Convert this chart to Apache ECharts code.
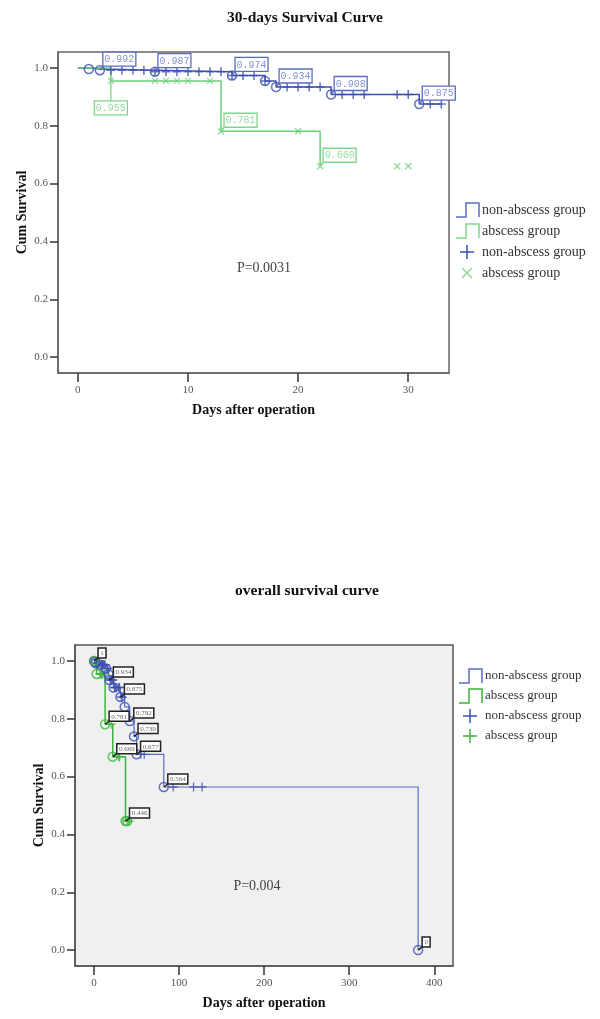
<!DOCTYPE html>
<html><head><meta charset="utf-8">
<script src="https://cdn.jsdelivr.net/npm/echarts@6/dist/echarts.min.js"></script>
<style>html,body{margin:0;padding:0;background:#fff}#c{width:600px;height:1019px}</style>
</head><body><div id="c"></div>
<script>
// ---------------- 30-days survival (top chart) ----------------
const top_xTicks = [0, 10, 20, 30];
const top_yTicks = [0, 0.2, 0.4, 0.6, 0.8, 1.0];
// Kaplan-Meier steps [day, cumulative survival]
const top_nonAbscessSteps = [[0,1],[1,0.996],[2,0.992],[7,0.987],[14,0.974],[17,0.955],[18,0.934],[23,0.908],[31,0.875],[33,0.875]];
const top_abscessSteps = [[0,1],[3,0.955],[13,0.781],[22,0.660]];
// censored days
const top_nonAbscessCensor = [3,4,5,6,7,8,9,10,11,12,13,14,15,16,17,19,20,21,22,24,25,26,29,30,32,33];
const top_abscessCensor = [3,7,8,9,10,12,13,20,22,29,30];
// event days drawn with circles
const top_nonAbscessCircles = [1,2,7,14,17,18,23,31];
// labelled points [day, value]
const top_nonAbscessLabels = [[2,0.992],[7,0.987],[14,0.974],[18,0.934],[23,0.908],[31,0.875]];
const top_abscessLabels = [[3,0.955],[13,0.781],[22,0.660]];
const top_abscessLabelPlacement = ['below','right','right'];
const top_pText = 'P=0.0031';

// ---------------- overall survival (bottom chart) ----------------
const all_xTicks = [0, 100, 200, 300, 400];
const all_yTicks = [0, 0.2, 0.4, 0.6, 0.8, 1.0];
const all_nonAbscessSteps = [[0,1],[1,0.996],[2,0.992],[7,0.987],[14,0.974],[17,0.955],[18,0.934],[23,0.908],[31,0.875],[36,0.841],[42,0.792],[47,0.739],[50,0.677],[82,0.564],[381,0]];
const all_abscessSteps = [[0,1],[3,0.955],[13,0.781],[22,0.669],[37,0.446],[41,0.446]];
const all_nonAbscessCensor = [3,4,5,6,8,9,10,11,12,13,15,16,19,20,21,22,24,25,26,29,30,32,33,55,59,93,117,127];
const all_abscessCensor = [7,8,9,10,12,20,29,30,39,41];
const all_nonAbscessCircles = [0,1,2,7,14,17,18,23,31,36,42,47,50,82,381];
const all_abscessCircles = [0,3,13,22,37,39];
const all_nonAbscessLabels = [[0,1],[18,0.934],[31,0.875],[42,0.792],[47,0.739],[50,0.677],[82,0.564],[381,0]];
const all_abscessLabels = [[13,0.781],[22,0.669],[37,0.446]];
const all_pText = 'P=0.004';

const legendNames = ['non-abscess group', 'abscess group', 'non-abscess group', 'abscess group'];

// ---------------- helpers ----------------
const SERIF = "'Liberation Serif', 'DejaVu Serif', serif";
function S(steps, t) { let v = steps[0][1]; for (const [d, s] of steps) { if (d <= t) v = s; else break; } return v; }
function onCurve(steps, days) { return days.map(d => [d, S(steps, d)]); }
function fmt(v) { return v === 1 ? '1' : v === 0 ? '0' : v.toFixed(3); }
const mctx = document.createElement('canvas').getContext('2d');
function textW(t, font) { mctx.font = font; return mctx.measureText(t).width; }

const PLUS = 'path://M0,5L10,5M5,0L5,10';
const CROSS = 'path://M0,0L10,10M10,0L0,10';

function stepSeries(idx, steps, color, width) {
  return { type: 'line', xAxisIndex: idx, yAxisIndex: idx, step: 'end', data: steps, showSymbol: false, symbol: 'none',
    lineStyle: { color: color, width: width }, z: 2, silent: true };
}
function markSeries(idx, pts, symbol, size, color, lw) {
  return { type: 'scatter', xAxisIndex: idx, yAxisIndex: idx, data: pts, symbol: symbol, symbolSize: size,
    itemStyle: { color: 'rgba(0,0,0,0)', borderColor: color, borderWidth: lw }, z: 4, silent: true };
}
function labelSeries(idx, labels, placement, st) {
  return {
    type: 'custom', xAxisIndex: idx, yAxisIndex: idx, clip: false, z: 6, silent: true,
    data: labels.map(l => [l[0], l[1]]),
    renderItem: function (params, api) {
      const i = params.dataIndex;
      const p = api.coord([api.value(0), api.value(1)]);
      const txt = fmt(labels[i][1]);
      const font = st.fontSize + 'px ' + st.fontFamily;
      const w = Math.round(textW(txt, font) + st.padX * 2);
      const h = st.boxH;
      let bx, by, lx, ly;
      if (placement && placement[i] === 'below') { bx = p[0] - w / 2; by = p[1] + st.belowGap; lx = p[0]; ly = by; }
      else { bx = p[0] + st.dx; by = p[1] - st.dy - h; lx = bx; ly = by + h; }
      return { type: 'group', children: [
        { type: 'line', shape: { x1: p[0], y1: p[1], x2: lx, y2: ly }, style: { stroke: st.border, lineWidth: st.lw } },
        { type: 'rect', shape: { x: bx, y: by, width: w, height: h }, style: { fill: '#fff', stroke: st.border, lineWidth: st.lw } },
        { type: 'text', style: { x: bx + w / 2, y: by + h / 2 + 0.5, text: txt, align: 'center', verticalAlign: 'middle', font: font, fill: st.textColor } }
      ] };
    }
  };
}
function axisPair(idx, xmin, xmax, xTicks, ymin, ymax, yTicks, frameColor) {
  const lab = { fontFamily: SERIF, fontSize: 11, color: '#555' };
  const nameStyle = { fontFamily: SERIF, fontSize: 14, fontWeight: 'bold', color: '#111' };
  return {
    x: { type: 'value', gridIndex: idx, min: xmin, max: xmax, splitLine: { show: false },
      axisLine: { show: true, onZero: false, lineStyle: { color: frameColor, width: 1.5 } },
      axisTick: { show: true, customValues: xTicks, length: 9, lineStyle: { color: '#333', width: 1.5 } },
      axisLabel: { customValues: xTicks, margin: 12, ...lab },
      name: 'Days after operation', nameLocation: 'middle', nameGap: 30, nameMoveOverlap: false, nameTextStyle: nameStyle },
    y: { type: 'value', gridIndex: idx, min: ymin, max: ymax, splitLine: { show: false },
      axisLine: { show: true, onZero: false, lineStyle: { color: frameColor, width: 1.5 } },
      axisTick: { show: true, customValues: yTicks, length: 8, lineStyle: { color: '#333', width: 1.5 } },
      axisLabel: { customValues: yTicks, margin: 10, formatter: v => v.toFixed(1), ...lab },
      name: 'Cum Survival', nameLocation: 'middle', nameGap: 29, nameMoveOverlap: false, nameTextStyle: nameStyle }
  };
}
function legendGraphic(x0, y0, gap, fontSize, items) {
  const els = [];
  items.forEach((it, i) => {
    const cy = y0 + i * gap;
    if (it.kind === 'step') {
      els.push({ type: 'polyline', shape: { points: [[x0, cy + 7], [x0 + 10, cy + 7], [x0 + 10, cy - 7], [x0 + 23, cy - 7], [x0 + 23, cy + 7]] },
        style: { stroke: it.color, lineWidth: 1.5, fill: 'none' } });
    } else if (it.kind === 'plus') {
      const cx = x0 + 11;
      els.push({ type: 'line', shape: { x1: cx - 7, y1: cy, x2: cx + 7, y2: cy }, style: { stroke: it.color, lineWidth: 1.5 } });
      els.push({ type: 'line', shape: { x1: cx, y1: cy - 7, x2: cx, y2: cy + 7 }, style: { stroke: it.color, lineWidth: 1.5 } });
    } else {
      const cx = x0 + 11;
      els.push({ type: 'line', shape: { x1: cx - 5, y1: cy - 5, x2: cx + 5, y2: cy + 5 }, style: { stroke: it.color, lineWidth: 1.2 } });
      els.push({ type: 'line', shape: { x1: cx + 5, y1: cy - 5, x2: cx - 5, y2: cy + 5 }, style: { stroke: it.color, lineWidth: 1.2 } });
    }
    els.push({ type: 'text', x: x0 + 26, y: cy, style: { text: it.name, font: fontSize + 'px ' + SERIF, fill: '#333', verticalAlign: 'middle', align: 'left' } });
  });
  return els;
}

// ---------------- colours ----------------
const C = {
  tBlue: '#3b4fae', tBlueLbl: '#5a6cc0', tBlueTxt: '#8494d4',
  tGreen: '#6ccf7a', tGreenLbl: '#7fd58b', tGreenTxt: '#95dca0',
  bBlueLine: '#5a6ec2', bBlue: '#3d50b2', bGreen: '#3db53d'
};

const a0 = axisPair(0, -1.8, 33.7, top_xTicks, -0.055, 1.055, top_yTicks, '#666');
const a1 = axisPair(1, -22.4, 422, all_xTicks, -0.055, 1.055, all_yTicks, '#555');

const topLblBlue = { fontSize: 10, fontFamily: "'Liberation Mono', 'DejaVu Sans Mono', monospace", padX: 1.5, boxH: 14, dx: 3, dy: 4, belowGap: 20, border: C.tBlueLbl, textColor: C.tBlueTxt, lw: 1.3 };
const topLblGreen = Object.assign({}, topLblBlue, { border: C.tGreenLbl, textColor: C.tGreenTxt });
const botLbl = { fontSize: 7, fontFamily: SERIF, padX: 2, boxH: 10, dx: 4, dy: 3, belowGap: 15, border: '#222', textColor: '#666', lw: 1.5 };

const option = {
  animation: false,
  backgroundColor: '#fff',
  grid: [
    { left: 58, top: 52, width: 391, height: 321, show: true, borderColor: '#666', borderWidth: 1.5, backgroundColor: '#fff' },
    { left: 75, top: 645, width: 378, height: 321, show: true, borderColor: '#555', borderWidth: 1.5, backgroundColor: '#f0f0f0' }
  ],
  xAxis: [a0.x, a1.x],
  yAxis: [a0.y, a1.y],
  series: [
    stepSeries(0, top_nonAbscessSteps, C.tBlue, 1.5),
    stepSeries(0, top_abscessSteps, C.tGreen, 1.5),
    markSeries(0, onCurve(top_nonAbscessSteps, top_nonAbscessCensor), PLUS, 9, C.tBlue, 1.5),
    markSeries(0, onCurve(top_abscessSteps, top_abscessCensor), CROSS, 6, C.tGreen, 1.2),
    markSeries(0, onCurve(top_nonAbscessSteps, top_nonAbscessCircles), 'circle', 9, C.tBlue, 1.5),
    labelSeries(0, top_nonAbscessLabels, null, topLblBlue),
    labelSeries(0, top_abscessLabels, top_abscessLabelPlacement, topLblGreen),

    stepSeries(1, all_nonAbscessSteps, C.bBlueLine, 1.2),
    stepSeries(1, all_abscessSteps, C.bGreen, 1.5),
    markSeries(1, onCurve(all_nonAbscessSteps, all_nonAbscessCensor), PLUS, 9, C.bBlue, 1.3),
    markSeries(1, onCurve(all_abscessSteps, all_abscessCensor), PLUS, 9, C.bGreen, 1.3),
    markSeries(1, onCurve(all_nonAbscessSteps, all_nonAbscessCircles), 'circle', 9, C.bBlue, 1.5),
    markSeries(1, onCurve(all_abscessSteps, all_abscessCircles), 'circle', 9, C.bGreen, 1.5),
    labelSeries(1, all_nonAbscessLabels, null, botLbl),
    labelSeries(1, all_abscessLabels, null, botLbl)
  ],
  graphic: [
    { type: 'text', x: 305, y: 18, style: { text: '30-days Survival Curve', font: 'bold 15.5px ' + SERIF, fill: '#111', align: 'center', verticalAlign: 'middle' } },
    { type: 'text', x: 307, y: 591, style: { text: 'overall survival curve', font: 'bold 15.5px ' + SERIF, fill: '#111', align: 'center', verticalAlign: 'middle' } },
    { type: 'text', x: 264, y: 268, style: { text: top_pText, font: '14px ' + SERIF, fill: '#444', align: 'center', verticalAlign: 'middle' } },
    { type: 'text', x: 257, y: 886, style: { text: all_pText, font: '14px ' + SERIF, fill: '#444', align: 'center', verticalAlign: 'middle' } },
    ...legendGraphic(456, 210, 21, 14, [
      { kind: 'step', color: C.tBlueLbl, name: legendNames[0] },
      { kind: 'step', color: C.tGreenLbl, name: legendNames[1] },
      { kind: 'plus', color: C.tBlue, name: legendNames[2] },
      { kind: 'cross', color: C.tGreenLbl, name: legendNames[3] }
    ]),
    ...legendGraphic(459, 676, 20, 13, [
      { kind: 'step', color: C.bBlueLine, name: legendNames[0] },
      { kind: 'step', color: C.bGreen, name: legendNames[1] },
      { kind: 'plus', color: C.bBlue, name: legendNames[2] },
      { kind: 'plus', color: C.bGreen, name: legendNames[3] }
    ])
  ]
};
const chart = echarts.init(document.getElementById('c'), null, { renderer: 'canvas' });
chart.setOption(option);
</script></body></html>
